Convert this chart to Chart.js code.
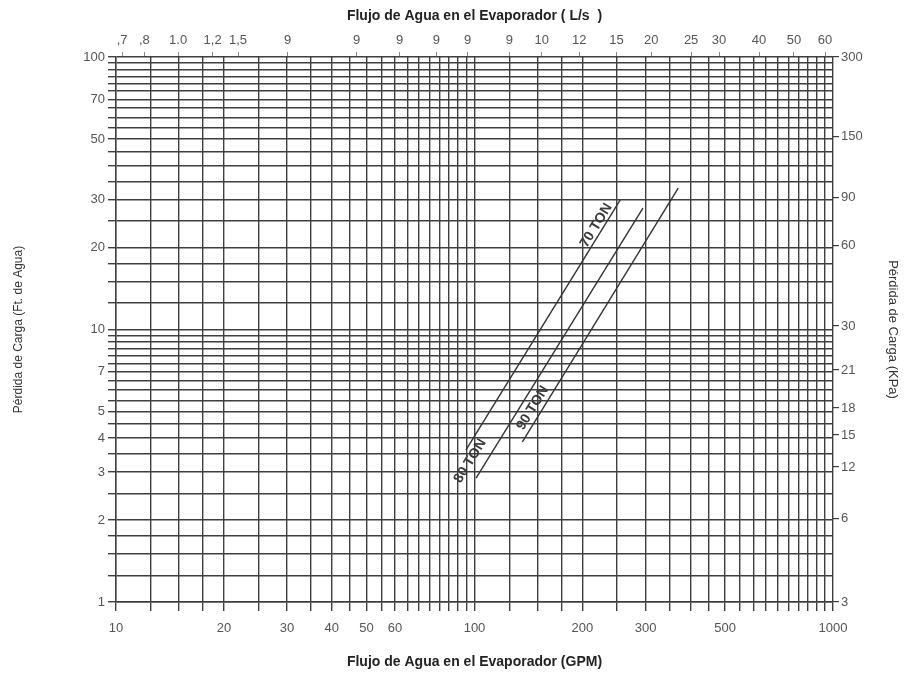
<!DOCTYPE html>
<html>
<head>
<meta charset="utf-8">
<script src="https://cdn.jsdelivr.net/npm/chart.js@4.4.0/dist/chart.umd.min.js"></script>
<style>
  html, body { margin: 0; padding: 0; background: #fff; }
  #wrap { width: 914px; height: 679px; position: relative; }
</style>
</head>
<body>
<div id="wrap"><canvas id="chart"></canvas></div>
<script>
// Grid lines (GPM on x, ft of water on y)
const xGridValues = [10, 12.5, 15, 17.5, 20, 25, 30, 35, 40, 45, 50, 55, 60, 65, 70, 75, 80, 85, 90, 95,
                     100, 125, 150, 175, 200, 250, 300, 350, 400, 450, 500, 550, 600, 650, 700, 750, 800, 850, 900, 950, 1000];
const xTickLabels = [10, 20, 30, 40, 50, 60, 100, 200, 300, 500, 1000];

const yGridValues = [1, 1.25, 1.5, 1.75, 2, 2.5, 3, 3.5, 4, 4.5, 5, 5.5, 6, 6.5, 7, 7.5, 8, 8.5, 9, 9.5,
                     10, 12.5, 15, 17.5, 20, 25, 30, 35, 40, 45, 50, 55, 60, 65, 70, 75, 80, 85, 90, 95, 100];
const yTickLabels = [1, 2, 3, 4, 5, 7, 10, 20, 30, 50, 70, 100];

// Top axis (L/s) - positions given in GPM
const topTickGpm = [10.4, 12.0, 14.9, 18.6, 21.9, 30.1, 46.9, 61.8, 78.3, 95.7,
                    125, 154, 196, 249, 311, 402, 481, 622, 778, 950];
const topTickLabels = [',7', ',8', '1.0', '1,2', '1,5', '9', '9', '9', '9', '9',
                       '9', '10', '12', '15', '20', '25', '30', '40', '50', '60'];

// Right axis (KPa) - positions given in ft
const rightTickFt = [100, 50.9, 30.6, 20.4, 10.3, 7.1, 5.15, 4.1, 3.13, 2.03, 1];
const rightTickLabels = ['300', '150', '90', '60', '30', '21', '18', '15', '12', '6', '3'];

// Tonnage curves
const tonLabels = ['70 TON', '80 TON', '90 TON'];
const ton70 = [{x: 94.6, y: 3.61}, {x: 255, y: 29.9}];
const ton80 = [{x: 101, y: 2.85}, {x: 295, y: 27.9}];
const ton90 = [{x: 136, y: 3.87}, {x: 370, y: 33.0}];

// label placement along each curve: fraction of length, offset from line (px)
const labelPlacement = [{t: 0.883, off: 7}, {t: 0.036, off: 14}, {t: 0.115, off: 9}];

const FONT = '"Liberation Sans", Arial, sans-serif';
const GRID = '#3f3f3f';

function fixedTicks(values) {
    return function(scale) {
        scale.ticks = values.map(v => ({value: v}));
    };
}

const lineLabels = {
    id: 'lineLabels',
    afterDatasetsDraw(chart) {
        const {ctx, scales: {x, y}} = chart;
        ctx.save();
        ctx.font = 'bold 14px ' + FONT;
        ctx.fillStyle = '#3a3a3a';
        ctx.textAlign = 'center';
        ctx.textBaseline = 'middle';
        chart.data.datasets.forEach((ds, i) => {
            const a = ds.data[0], b = ds.data[ds.data.length - 1];
            const x0 = x.getPixelForValue(a.x), y0 = y.getPixelForValue(a.y);
            const x1 = x.getPixelForValue(b.x), y1 = y.getPixelForValue(b.y);
            const len = Math.hypot(x1 - x0, y1 - y0);
            const ux = (x1 - x0) / len, uy = (y1 - y0) / len;
            const p = labelPlacement[i];
            const cx = x0 + ux * len * p.t + uy * p.off;
            const cy = y0 + uy * len * p.t - ux * p.off;
            ctx.save();
            ctx.translate(cx, cy);
            ctx.rotate(Math.atan2(uy, ux));
            ctx.fillText(tonLabels[i], 0, 0);
            ctx.restore();
        });
        ctx.restore();
    }
};

const lineStyle = {borderColor: '#333', borderWidth: 1.4, pointRadius: 0, showLine: true, fill: false};

new Chart(document.getElementById('chart'), {
    type: 'scatter',
    data: {
        datasets: [
            Object.assign({label: tonLabels[0], data: ton70}, lineStyle),
            Object.assign({label: tonLabels[1], data: ton80}, lineStyle),
            Object.assign({label: tonLabels[2], data: ton90}, lineStyle)
        ]
    },
    options: {
        responsive: true,
        maintainAspectRatio: false,
        animation: false,
        layout: {padding: 0},
        plugins: {
            legend: {display: false},
            tooltip: {enabled: false}
        },
        scales: {
            x: {
                type: 'logarithmic',
                position: 'bottom',
                min: 10,
                max: 1000,
                afterBuildTicks: fixedTicks(xGridValues),
                afterFit: s => { s.height = 77; },
                grid: {color: GRID, lineWidth: 1.4, tickLength: 9},
                border: {color: GRID, width: 1.4},
                ticks: {
                    autoSkip: false,
                    maxRotation: 0,
                    padding: 10,
                    color: '#555',
                    font: {family: FONT, size: 13},
                    callback: v => xTickLabels.includes(v) ? String(v) : ''
                },
                title: {
                    display: true,
                    text: 'Flujo de Agua en el Evaporador (GPM)',
                    color: '#222',
                    font: {family: FONT, size: 14, weight: 'bold'},
                    padding: {top: 0, bottom: 8}
                }
            },
            xTop: {
                type: 'logarithmic',
                position: 'top',
                min: 10,
                max: 1000,
                afterBuildTicks: fixedTicks(topTickGpm),
                afterFit: s => { s.height = 57; },
                grid: {drawOnChartArea: false, color: '#888', lineWidth: 1, tickLength: 5},
                border: {display: false},
                ticks: {
                    autoSkip: false,
                    maxRotation: 0,
                    padding: 4,
                    color: '#555',
                    font: {family: FONT, size: 13},
                    callback: (v, i) => topTickLabels[i]
                },
                title: {
                    display: true,
                    text: 'Flujo de Agua en el Evaporador ( L/s  )',
                    color: '#222',
                    font: {family: FONT, size: 14, weight: 'bold'},
                    padding: {top: 8, bottom: 0}
                }
            },
            y: {
                type: 'logarithmic',
                position: 'left',
                min: 1,
                max: 100,
                afterBuildTicks: fixedTicks(yGridValues),
                afterFit: s => { s.width = 116; },
                grid: {color: GRID, lineWidth: 1.4, tickLength: 8},
                border: {color: GRID, width: 1.4},
                ticks: {
                    autoSkip: false,
                    padding: 3,
                    color: '#555',
                    font: {family: FONT, size: 13},
                    callback: v => yTickLabels.includes(v) ? String(v) : ''
                },
                title: {
                    display: true,
                    text: 'Pérdida de Carga (Ft. de Agua)',
                    color: '#333',
                    font: {family: FONT, size: 12},
                    padding: {top: 11, bottom: 0}
                }
            },
            yRight: {
                type: 'logarithmic',
                position: 'right',
                min: 1,
                max: 100,
                afterBuildTicks: fixedTicks(rightTickFt),
                afterFit: s => { s.width = 81; },
                grid: {drawOnChartArea: false, color: GRID, lineWidth: 1.2, tickLength: 6},
                border: {display: false},
                ticks: {
                    autoSkip: false,
                    padding: 2,
                    color: '#555',
                    font: {family: FONT, size: 13},
                    callback: (v, i) => rightTickLabels[i]
                },
                title: {
                    display: true,
                    text: 'Pérdida de Carga (KPa)',
                    color: '#333',
                    font: {family: FONT, size: 13},
                    padding: {top: 14, bottom: 0}
                }
            }
        }
    },
    plugins: [lineLabels]
});
</script>
</body>
</html>
